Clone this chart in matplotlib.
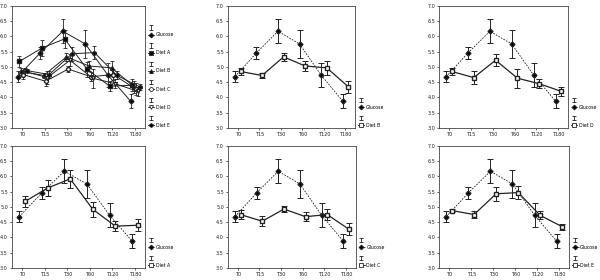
import matplotlib
matplotlib.use("Agg")
import matplotlib.pyplot as plt
from matplotlib.lines import Line2D
from matplotlib.container import ErrorbarContainer
import numpy as np

# tempi di prelievo
times = ['T0', 'T15', 'T30', 'T60', 'T120', 'T180']

# medie e errori
glucose = [4.68, 5.46, 6.17, 5.75, 4.73, 3.88]
glucose_err = [0.17, 0.20, 0.39, 0.45, 0.39, 0.24]

diet_a = [5.18, 5.62, 5.92, 4.92, 4.37, 4.40]
diet_a_err = [0.17, 0.27, 0.29, 0.24, 0.16, 0.19]
diet_b = [4.85, 4.72, 5.33, 5.03, 4.97, 4.35]
diet_b_err = [0.10, 0.08, 0.14, 0.18, 0.23, 0.20]
diet_c = [4.75, 4.53, 4.93, 4.68, 4.75, 4.27]
diet_c_err = [0.15, 0.16, 0.10, 0.15, 0.17, 0.19]
diet_d = [4.85, 4.65, 5.22, 4.63, 4.45, 4.20]
diet_d_err = [0.10, 0.20, 0.20, 0.31, 0.15, 0.14]
diet_e = [4.88, 4.75, 5.43, 5.47, 4.72, 4.35]
diet_e_err = [0.06, 0.10, 0.22, 0.20, 0.13, 0.10]

diete = {
    'Diet A': (diet_a, diet_a_err, 's', 'k'),
    'Diet B': (diet_b, diet_b_err, '^', 'k'),
    'Diet C': (diet_c, diet_c_err, 'o', 'w'),
    'Diet D': (diet_d, diet_d_err, 'v', 'w'),
    'Diet E': (diet_e, diet_e_err, 'h', 'k'),
}

col = '#222222'
x = np.arange(len(times))


class HandlerI:
    # linie + marker, cu un "I" (bara de eroare) deasupra
    def legend_artist(self, legend, orig_handle, fontsize, handlebox):
        x0, y0 = handlebox.xdescent, handlebox.ydescent
        w, h = handlebox.width, handlebox.height
        ln = orig_handle.lines[0]
        cy = y0 + h / 2
        cx = x0 + w * 0.45
        a = Line2D([x0, x0 + w], [cy, cy], color=ln.get_color(),
                   linestyle=ln.get_linestyle(), linewidth=0.6)
        m = Line2D([cx], [cy], marker=ln.get_marker(), markersize=ln.get_markersize(),
                   markerfacecolor=ln.get_markerfacecolor(), color=ln.get_color(),
                   linestyle='none', markeredgewidth=0.6)
        b = Line2D([cx, cx], [cy + h * 1.6, cy + h * 2.9], color=col, linewidth=0.6,
                   marker='_', markersize=2.5, markeredgewidth=0.6)
        for art in (a, m, b):
            art.set_transform(handlebox.get_transform())
            handlebox.add_artist(art)
        return a


def stil_axa(ax):
    ax.set_ylim(3.0, 7.0)
    ax.set_yticks(np.arange(3.0, 7.01, 0.5))
    ax.set_yticklabels([f'{v:.1f}' for v in np.arange(3.0, 7.01, 0.5)])
    ax.set_xlim(-0.45, 5.45)
    ax.set_xticks(x)
    ax.set_xticklabels(times)
    ax.tick_params(labelsize=3.5, length=1.5, width=0.5, pad=1.5, colors=col)
    for s in ax.spines.values():
        s.set_linewidth(0.6)
        s.set_color('#444444')


def legenda(ax):
    ax.legend(loc='lower left', bbox_to_anchor=(1.0, -0.02), frameon=False,
              fontsize=3.3, handlelength=1.4, handletextpad=0.3,
              labelspacing=2.85, borderaxespad=0.2,
              handler_map={ErrorbarContainer: HandlerI()})


fig = plt.figure(figsize=(6, 2.8), dpi=100)
fig.patch.set_facecolor('white')

# pozitiile panourilor (stanga, jos, latime, inaltime)
poz = [
    [0.020, 0.543, 0.222, 0.436],
    [0.380, 0.543, 0.212, 0.436],
    [0.732, 0.543, 0.215, 0.436],
    [0.020, 0.043, 0.222, 0.436],
    [0.380, 0.043, 0.213, 0.436],
    [0.732, 0.043, 0.217, 0.436],
]
axe = [fig.add_axes(p) for p in poz]

# panoul 1: toate dietele
ax = axe[0]
off = np.linspace(-0.2, 0.2, 6)
ax.errorbar(x + off[0], glucose, yerr=glucose_err, fmt='-D', color=col, ms=2.5,
            lw=0.7, elinewidth=0.6, capsize=1.5, capthick=0.6, mfc='k', label='Glucose')
for i, (nume, (m, e, mk, fc)) in enumerate(diete.items()):
    ax.errorbar(x + off[i + 1], m, yerr=e, fmt='-' + mk, color=col, ms=2.8,
                lw=0.7, elinewidth=0.6, capsize=1.5, capthick=0.6, mfc=fc, label=nume)
stil_axa(ax)
legenda(ax)

# panourile 2-6: glucoza vs o dieta
ordine = ['Diet B', 'Diet D', 'Diet A', 'Diet C', 'Diet E']
for ax, nume in zip(axe[1:], ordine):
    m, e, mk, fc = diete[nume]
    ax.errorbar(x - 0.13, glucose, yerr=glucose_err, fmt='--D', color=col, ms=2.5,
                lw=0.6, elinewidth=0.7, capsize=2.2, capthick=0.7, mfc='k',
                dashes=(2, 1.5), label='Glucose')
    ax.errorbar(x + 0.13, m, yerr=e, fmt='-s', color=col, ms=3, lw=0.9,
                elinewidth=0.7, capsize=2.2, capthick=0.7, mfc='w', label=nume)
    stil_axa(ax)
    legenda(ax)

fig.savefig('out.png', dpi=100, facecolor='white')
